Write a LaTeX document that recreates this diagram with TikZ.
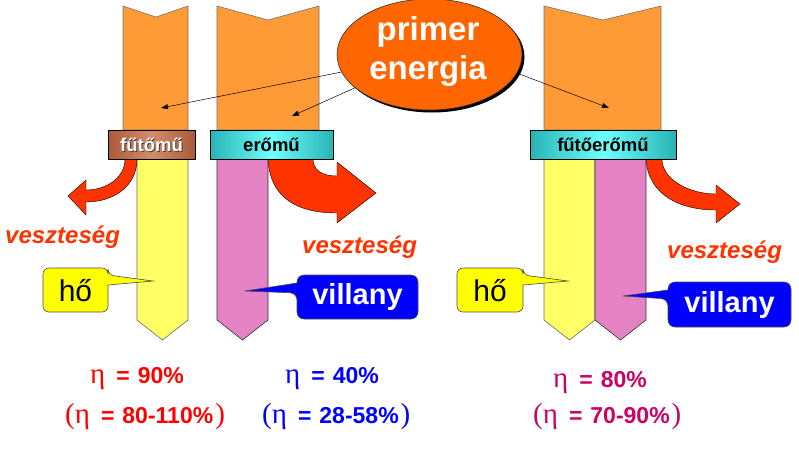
\documentclass[tikz,border=0pt]{standalone}
\usepackage{fontspec}
\setmainfont{Liberation Sans}
\newfontfamily\symf{Liberation Serif}
\usetikzlibrary{shapes.geometric,arrows.meta}
\definecolor{org}{RGB}{255,155,55}
\definecolor{lossred}{RGB}{255,51,0}
\definecolor{heat}{RGB}{255,255,102}
\definecolor{elec}{RGB}{228,130,196}
\definecolor{ellor}{RGB}{255,102,0}
\definecolor{tealA}{RGB}{40,180,180}
\definecolor{tealB}{RGB}{110,255,255}
\definecolor{brnA}{RGB}{170,90,58}
\definecolor{brnB}{RGB}{212,140,105}
\definecolor{etared}{RGB}{255,0,0}
\definecolor{etablue}{RGB}{0,0,255}
\definecolor{etamag}{RGB}{204,0,102}
\definecolor{vesz}{RGB}{255,51,0}
\definecolor{calloutblue}{RGB}{0,0,255}
\definecolor{calloutyel}{RGB}{255,255,0}
\newcommand\symeta{{\symf\mdseries\fontsize{29}{30}\selectfont η}\hspace{11pt}=\hspace{8pt}}
\newcommand\symlp{{\symf\mdseries\fontsize{29}{30}\selectfont(}}
\newcommand\symrp{\hspace{2pt}{\symf\mdseries\fontsize{29}{30}\selectfont)}}
\begin{document}
\begin{tikzpicture}[x=1pt,y=-1pt,
  orbar/.style={fill=org, draw=black!55, line width=0.6pt},
  heatbar/.style={fill=heat, draw=black!60, line width=0.6pt},
  elecbar/.style={fill=elec, draw=black!80, line width=0.6pt},
  lossarrow/.style={fill=lossred, draw=black, line width=0.4pt},
  lbl/.style={draw=black, line width=0.8pt, minimum height=29pt, inner sep=0pt,
    font=\fontsize{18.5}{20}\selectfont\bfseries},
  tealbox/.style={lbl, left color=tealA, right color=tealA, middle color=tealB},
  brownbox/.style={lbl, left color=brnA, right color=brnA, middle color=brnB, text=white},
  ptr/.style={-{Triangle[length=7pt,width=5pt]}, line width=0.5pt, black},
  vtxt/.style={font=\fontsize{24}{26}\selectfont\bfseries\itshape, text=vesz, anchor=base west, inner sep=0pt},
  etatxt/.style={font=\fontsize{23}{25}\selectfont\bfseries, anchor=base west, inner sep=0pt},
  heatcall/.style={fill=calloutyel, draw=black!70, line width=0.6pt},
  eleccall/.style={fill=calloutblue, draw=black!70, line width=0.6pt},
  hotxt/.style={font=\fontsize{30}{32}\selectfont, inner sep=0pt},
  viltxt/.style={font=\fontsize{29}{31}\selectfont\bfseries, text=white, inner sep=0pt}
]
\useasboundingbox (0,0) rectangle (799,448);

% ---------- orange primary-energy bars ----------
\draw[orbar] (123,6) -- (156,17) -- (188,6) -- (188,130) -- (123,130) -- cycle;
\draw[orbar] (217,6) -- (268,20) -- (319,6) -- (319,130) -- (217,130) -- cycle;
\draw[orbar] (544,6) -- (603,20) -- (661,6) -- (661,130) -- (544,130) -- cycle;

% ---------- output bars ----------
\draw[heatbar] (137,159) -- (188,159) -- (188,320) -- (162.5,340) -- (137,320) -- cycle;
\draw[elecbar] (217,159) -- (268,159) -- (268,320) -- (242.5,340) -- (217,320) -- cycle;
\draw[heatbar] (544,159) -- (595,159) -- (595,320) -- (569.5,340) -- (544,320) -- cycle;
\draw[elecbar] (595,159) -- (646,159) -- (646,320) -- (620.5,340) -- (595,320) -- cycle;

% ---------- loss arrows ----------
\draw[lossarrow] (137,159) .. controls (137,186) and (114,202) .. (86,202)
  -- (86,215) -- (68,196) -- (86,180) -- (86,190)
  .. controls (106,190) and (125,178) .. (125,159) -- cycle;
\draw[lossarrow] (268,159) .. controls (270,200) and (300,213) .. (337,213)
  -- (337,223) -- (376,193) -- (337,162) -- (337,176)
  .. controls (322,176) and (313,170) .. (313,159) -- cycle;
\draw[lossarrow] (646,159) .. controls (648,195) and (680,210) .. (716,210)
  -- (716,223) -- (740,204) -- (716,185) -- (716,194)
  .. controls (690,194) and (662,180) .. (662,159) -- cycle;

% ---------- plant labels ----------
\node[brownbox, minimum width=87pt] (fm) at (151.5,144.5) {};
\node[text=black!75, font=\fontsize{18.5}{20}\selectfont\bfseries, inner sep=0pt] (fmshadow) at (152.5,145.5) {fűtőmű};
\node[text=white, font=\fontsize{18.5}{20}\selectfont\bfseries, inner sep=0pt] (fmtext) at (151.5,144.5) {fűtőmű};
\node[tealbox, minimum width=123pt] (em) at (271.5,144.5) {erőmű};
\node[tealbox, minimum width=146pt] (fem) at (603,144.5) {fűtőerőmű};

% ---------- primary energy ellipse ----------
\fill[black] (432,57) ellipse [x radius=92.5, y radius=55.5];
\node[ellipse, fill=ellor, draw=black!80, line width=0.6pt, minimum width=185pt,
  minimum height=111pt, inner sep=0pt] (pe) at (429.5,54.5) {};
\node[font=\fontsize{33}{39}\selectfont\bfseries, text=white, align=center, inner sep=0pt]
  (petext) at (428,52) {primer\\energia};
\coordinate (t1) at (161,108);
\coordinate (t2) at (292,116);
\coordinate (t3) at (609,108);
\draw[ptr] (pe) -- (t1);
\draw[ptr] (pe) -- (t2);
\draw[ptr] (pe.-12) -- (t3);

% ---------- loss texts ----------
\node[vtxt] (v1) at (5,243) {veszteség};
\node[vtxt] (v2) at (302,253) {veszteség};
\node[vtxt] (v3) at (667,258) {veszteség};

% ---------- callouts ----------
\draw[heatcall, rounded corners=6pt] (43,268) -- (108,268) -- (108,275)
  [sharp corners] -- (153,281) -- (108,285) [rounded corners=6pt] -- (108,312) -- (43,312) -- cycle;
\node[hotxt] (h1) at (75.5,291) {hő};
\draw[eleccall, rounded corners=7pt] (418,275) -- (418,319) -- (297,319) -- (297,293)
  [sharp corners] -- (245,291) -- (297,283) [rounded corners=7pt] -- (297,275) -- cycle;
\node[viltxt] (e1) at (357.5,297) {villany};
\draw[heatcall, rounded corners=6pt] (457,268) -- (523,268) -- (523,275)
  [sharp corners] -- (568,281) -- (523,285) [rounded corners=6pt] -- (523,312) -- (457,312) -- cycle;
\node[hotxt] (h2) at (490,291) {hő};
\draw[eleccall, rounded corners=7pt] (791,282) -- (791,327) -- (668,327) -- (668,299)
  [sharp corners] -- (623,296) -- (668,290) [rounded corners=7pt] -- (668,282) -- cycle;
\node[viltxt] (e2) at (729.5,305) {villany};

% ---------- efficiencies ----------
\node[etatxt, text=etared] (r1) at (90,383) {\symeta 90\%};
\node[etatxt, text=etared] (r2) at (65,423) {\symlp\symeta 80-110\%\symrp};
\node[etatxt, text=etablue] (b1) at (285,383) {\symeta 40\%};
\node[etatxt, text=etablue] (b2) at (262,423) {\symlp\symeta 28-58\%\symrp};
\node[etatxt, text=etamag] (m1) at (553,387) {\symeta 80\%};
\node[etatxt, text=etamag] (m2) at (533,423) {\symlp\symeta 70-90\%\symrp};
\end{tikzpicture}
\end{document}
